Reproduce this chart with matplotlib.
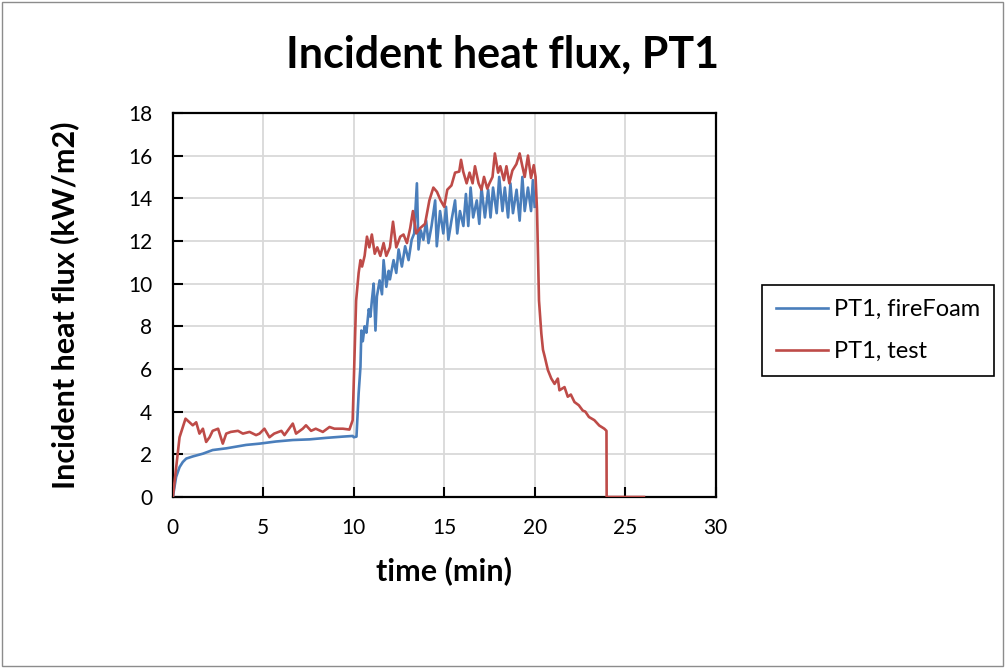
import matplotlib.pyplot as plt
from matplotlib.patches import Rectangle

plt.rcParams['font.family'] = ['Lato', 'DejaVu Sans']

# PT1, fireFoam (time in min, heat flux in kW/m2)
t_foam = [0, 0.18, 0.37, 0.55, 0.74, 1.1, 1.66, 2.2, 2.95, 4.05, 4.79, 5.7, 6.63, 7.55, 8.47, 9.4, 9.94,
          10.0, 10.15, 10.27, 10.37, 10.42, 10.5, 10.6, 10.7, 10.83, 10.92, 11.0, 11.1, 11.2, 11.28,
          11.43, 11.56, 11.65, 11.8, 11.93, 12.0, 12.2, 12.35, 12.48, 12.66, 12.84, 13.03, 13.2,
          13.34, 13.49, 13.58, 13.7, 13.85, 14.0, 14.13, 14.3, 14.5, 14.59, 14.77, 14.95, 15.1,
          15.23, 15.4, 15.6, 15.72, 15.87, 16.06, 16.2, 16.33, 16.46, 16.6, 16.8, 16.94, 17.06,
          17.25, 17.43, 17.56, 17.7, 17.9, 18.04, 18.22, 18.35, 18.53, 18.66, 18.8, 19.0, 19.17,
          19.32, 19.45, 19.63, 19.8, 19.9, 20.0]
q_foam = [0, 0.94, 1.4, 1.64, 1.8, 1.9, 2.03, 2.2, 2.28, 2.44, 2.5, 2.6, 2.67, 2.7, 2.77, 2.83, 2.86,
          2.8, 2.83, 4.86, 6.1, 7.8, 7.3, 8.0, 7.7, 8.8, 8.45, 9.2, 10.0, 7.8, 9.4,
          10.15, 9.5, 11.1, 9.85, 10.6, 10.2, 11.1, 10.5, 11.6, 10.8, 11.75, 11.1, 12.05,
          12.35, 14.7, 11.6, 12.5, 12.05, 12.95, 11.9, 12.7, 13.9, 11.75, 13.4, 12.35, 13.6,
          12.05, 12.95, 13.9, 12.35, 13.4, 12.7, 14.2, 12.7, 14.5, 13.1, 13.9, 12.8, 14.5,
          13.1, 14.4, 13.1, 14.5, 13.3, 15.0, 13.4, 14.5, 13.1, 14.7, 13.3, 14.4, 12.95,
          15.0, 13.4, 14.5, 13.4, 14.85, 13.6]

# PT1, test
t_test = [0, 0.37, 0.7, 0.92, 1.1, 1.29, 1.47, 1.66, 1.84, 2.03, 2.2, 2.5, 2.76, 2.95, 3.2, 3.6, 3.87,
          4.24, 4.6, 4.79, 5.06, 5.34, 5.6, 6.0, 6.17, 6.63, 6.81, 7.18, 7.36, 7.64, 7.9, 8.29,
          8.66, 8.93, 9.4, 9.76, 9.94, 10.13, 10.27, 10.37, 10.46, 10.6, 10.73, 10.86, 11.0,
          11.16, 11.3, 11.47, 11.65, 11.8, 12.0, 12.17, 12.35, 12.57, 12.75, 12.94, 13.12,
          13.27, 13.45, 13.67, 13.94, 14.18, 14.4, 14.6, 14.8, 15.0, 15.17, 15.4, 15.6, 15.83,
          15.93, 16.05, 16.24, 16.4, 16.57, 16.7, 16.9, 17.06, 17.2, 17.38, 17.5, 17.67, 17.8,
          17.98, 18.1, 18.3, 18.44, 18.6, 18.77, 18.99, 19.17, 19.32, 19.45, 19.63, 19.8, 19.95,
          20.05, 20.13, 20.24, 20.37, 20.46, 20.55, 20.73, 20.92, 21.1, 21.28, 21.37, 21.65,
          21.83, 22.0, 22.2, 22.44, 22.66, 22.8, 23.0, 23.3, 23.57, 23.85, 23.97, 23.98, 26.04]
q_test = [0, 2.8, 3.67, 3.5, 3.36, 3.5, 2.97, 3.2, 2.58, 2.8, 3.1, 3.2, 2.5, 2.97, 3.05, 3.1, 2.97,
          3.05, 2.9, 2.97, 3.2, 2.8, 2.97, 3.1, 2.9, 3.44, 2.97, 3.2, 3.36, 3.1, 3.2, 3.05,
          3.28, 3.2, 3.2, 3.16, 3.6, 9.2, 10.5, 11.1, 10.8, 11.3, 12.2, 11.7, 12.3,
          11.4, 11.7, 11.3, 11.9, 11.3, 11.7, 12.9, 11.7, 12.2, 12.3, 11.9, 12.6,
          13.4, 12.35, 12.6, 12.8, 13.9, 14.5, 14.3, 13.9, 13.6, 14.4, 14.6, 15.2, 15.25,
          15.8, 15.25, 14.7, 15.2, 14.7, 15.5, 14.7, 14.4, 15.0, 14.45, 14.7, 15.0, 16.1,
          15.2, 15.5, 14.85, 15.5, 14.7, 15.3, 15.6, 16.1, 15.5, 15.0, 16.0, 14.95, 15.55,
          15.0, 13.45, 9.2, 7.65, 6.9, 6.6, 5.95, 5.55, 5.3, 5.55, 5.0, 5.15,
          4.7, 4.8, 4.45, 4.3, 4.05, 4.0, 3.75, 3.6, 3.35, 3.2, 3.1, 0, 0]

fig = plt.figure(figsize=(10.05, 6.68), dpi=100)
ax = fig.add_axes([0.172, 0.256, 0.54, 0.575])

ax.plot(t_foam, q_foam, color='#4A7EBB', lw=1.9, label='PT1, fireFoam', zorder=3)
ax.plot(t_test, q_test, color='#BE4B48', lw=1.9, label='PT1, test', zorder=3)

ax.set_xlim(0, 30)
ax.set_ylim(0, 18)
ax.set_xticks(range(0, 31, 5))
ax.set_yticks(range(0, 19, 2))
ax.grid(True, color='#D9D9D9', lw=1.3)
ax.set_axisbelow(True)
ax.tick_params(direction='in', length=7, width=1.5, labelsize=15, pad=15)
for s in ax.spines.values():
    s.set_linewidth(1.6)

# title centred on the whole chart
fig.text(0.5, 0.898, 'Incident heat flux, PT1', ha='center', va='baseline',
         fontsize=31, fontweight='bold')
ax.set_xlabel('time (min)', fontsize=22, fontweight='bold', labelpad=13)
ax.set_ylabel('Incident heat flux (kW/m2)', fontsize=22, fontweight='bold', labelpad=35)

leg = ax.legend(loc='center left', bbox_to_anchor=(0.758, 0.505), bbox_transform=fig.transFigure,
                fontsize=17, fancybox=False, edgecolor='black', framealpha=1, borderaxespad=0,
                handlelength=2.2, borderpad=0.6, labelspacing=0.9, handletextpad=0.25)
leg.get_frame().set_linewidth(1.2)

# chart area border
fig.patches.append(Rectangle((0.002, 0.003), 0.996, 0.994, transform=fig.transFigure,
                             fill=False, edgecolor='#8C8C8C', lw=1))

plt.savefig('out.png', dpi=100)
